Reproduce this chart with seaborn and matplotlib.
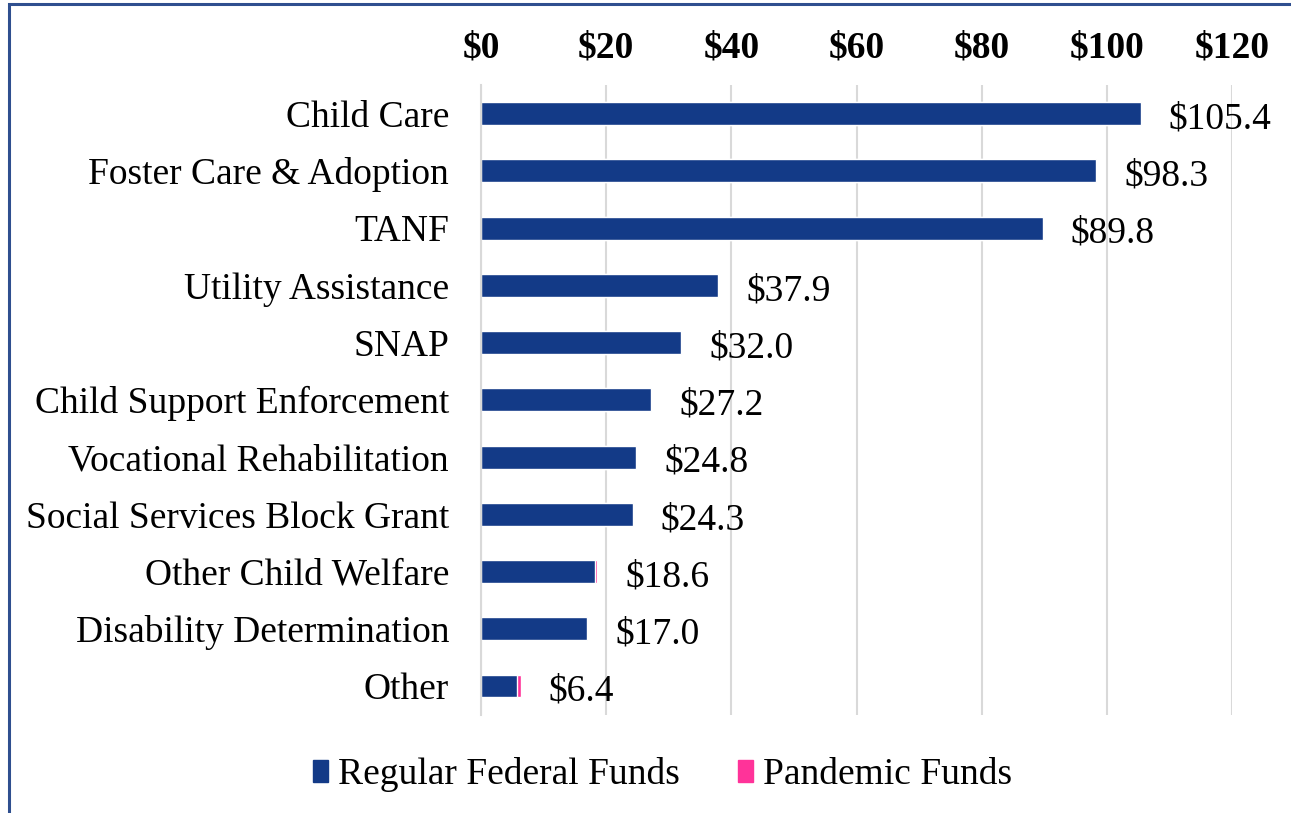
import numpy as np
import pandas as pd
import matplotlib
matplotlib.use("Agg")
import matplotlib.pyplot as plt
import matplotlib.patches as mpatches
import seaborn as sns

# --- DATA ---
categories = ["Child Care", "Foster Care & Adoption", "TANF", "Utility Assistance",
              "SNAP", "Child Support Enforcement", "Vocational Rehabilitation",
              "Social Services Block Grant", "Other Child Welfare",
              "Disability Determination", "Other"]
regular_funds = [105.4, 98.3, 89.8, 37.9, 32.0, 27.2, 24.8, 24.3, 18.2, 17.0, 5.7]
pandemic_funds = [0.0, 0.0, 0.0, 0.0, 0.0, 0.0, 0.0, 0.0, 0.4, 0.0, 0.7]
x_ticks = [0, 20, 40, 60, 80, 100, 120]

# --- STYLE ---
NAVY = "#133a87"
PINK = "#ff3399"
GRID = "#d9d9d9"
FS = 27

sns.set_style("white")
plt.rcParams["font.family"] = ["Liberation Serif", "DejaVu Serif"]
plt.rcParams["text.color"] = "black"
plt.rcParams["xtick.color"] = "black"
plt.rcParams["ytick.color"] = "black"

df = pd.DataFrame({"Program": categories,
                   "Regular": regular_funds,
                   "Pandemic": pandemic_funds})
df["Total"] = df["Regular"] + df["Pandemic"]

fig = plt.figure(figsize=(12.91, 8.13), dpi=100)
ax = fig.add_axes([0.3726, 0.121, 0.9543 - 0.3726, 0.8954 - 0.121])

# stacked: draw totals in pink, then regular on top in navy
sns.barplot(data=df, y="Program", x="Total", color=PINK, width=0.4,
            saturation=1, ax=ax, orient="h")
sns.barplot(data=df, y="Program", x="Regular", color=NAVY, width=0.4,
            saturation=1, ax=ax, orient="h")

ax.set_xlim(0, 120)
ax.set_ylim(len(categories) - 0.5, -0.5)
ax.set_xticks(x_ticks)
ax.set_xticklabels([f"${t}" for t in x_ticks], fontsize=FS, fontweight="bold")
ax.xaxis.tick_top()
ax.tick_params(axis="x", length=0, pad=14, labelcolor="black")
ax.tick_params(axis="y", length=0, pad=23, labelsize=FS, labelcolor="black")
ax.set_xlabel("")
ax.set_ylabel("")
ax.grid(axis="x", color=GRID, linewidth=1.5)
ax.set_axisbelow(True)
for s in ["top", "right", "bottom"]:
    ax.spines[s].set_visible(False)
ax.spines["left"].set_color(GRID)
ax.spines["left"].set_linewidth(1.5)

# data labels
for i, tot in enumerate(df["Total"]):
    ax.annotate(f"${tot:.1f}", xy=(tot, i), xytext=(20, -4), color="black",
                textcoords="offset points", va="center", ha="left", fontsize=FS)

# legend
handles = [mpatches.Patch(color=NAVY, label="Regular Federal Funds"),
           mpatches.Patch(color=PINK, label="Pandemic Funds")]
leg = fig.legend(handles=handles, loc="center", bbox_to_anchor=(0.513, 0.047),
                 ncol=2, frameon=False, fontsize=FS, handlelength=0.42,
                 handleheight=0.5, handletextpad=0.25, columnspacing=1.55)
for t in leg.get_texts():
    t.set_color("black")

# outer border (left and top edges visible)
border = mpatches.Rectangle((9 / 1291, -0.05), 1.1, 0.05 + (1 - 4 / 813),
                            transform=fig.transFigure, fill=False,
                            edgecolor="#2f4f8f", linewidth=2.2, clip_on=False)
fig.patches.append(border)

fig.savefig("out.png", dpi=100)
